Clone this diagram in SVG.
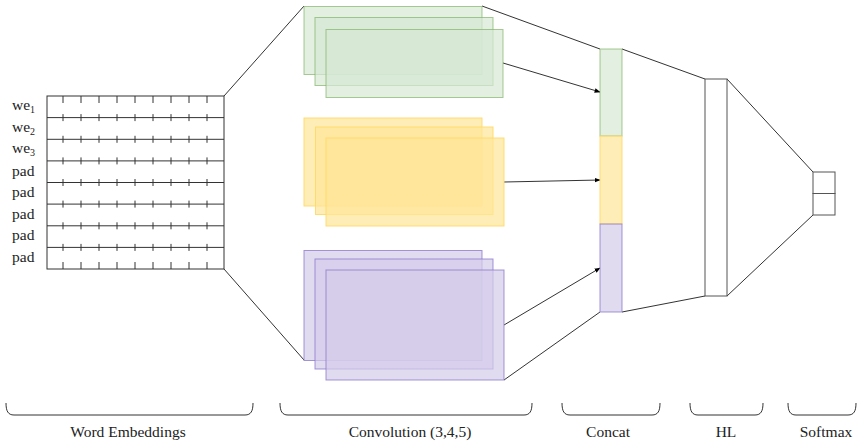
<svg xmlns="http://www.w3.org/2000/svg" width="857" height="444" viewBox="0 0 857 444">
<style>
text{font-family:"Liberation Serif","Times New Roman",serif;font-size:15.5px;fill:#222}
.ln{stroke:#333;stroke-width:1;fill:none}
.tk{stroke:#333;stroke-width:1}
.g{fill:#d5e8d4;stroke:#82b366;fill-opacity:0.7;stroke-opacity:0.7}
.y{fill:#ffe599;stroke:#ffd966;fill-opacity:0.7;stroke-opacity:0.9}
.p{fill:#d4cce9;stroke:#8c7acb;fill-opacity:0.7;stroke-opacity:0.8}
.box{fill:#fff;stroke:#555;stroke-width:1}
.br{stroke:#333;stroke-width:1;fill:none}
</style>
<defs>
<marker id="ah" viewBox="0 0 10 10" refX="9" refY="5" markerWidth="6" markerHeight="6" orient="auto" markerUnits="userSpaceOnUse">
<path d="M0,1 L10,5 L0,9 z" fill="#000"/>
</marker>
<g id="tickrow">
<line x1="63" y1="-3.5" x2="63" y2="3.5"/><line x1="81" y1="-3.5" x2="81" y2="3.5"/><line x1="99" y1="-3.5" x2="99" y2="3.5"/><line x1="117" y1="-3.5" x2="117" y2="3.5"/><line x1="135" y1="-3.5" x2="135" y2="3.5"/><line x1="153" y1="-3.5" x2="153" y2="3.5"/><line x1="171" y1="-3.5" x2="171" y2="3.5"/><line x1="189" y1="-3.5" x2="189" y2="3.5"/><line x1="207" y1="-3.5" x2="207" y2="3.5"/>
</g>
</defs>

<g id="connectors">
<line class="ln" x1="224" y1="96" x2="304" y2="6"/>
<line class="ln" x1="224" y1="269" x2="304" y2="360"/>
<line class="ln" x1="482" y1="6" x2="600" y2="49"/>
<line class="ln" x1="504" y1="380" x2="600" y2="312"/>
<line class="ln" x1="622" y1="49" x2="705" y2="79"/>
<line class="ln" x1="622" y1="312" x2="705" y2="296"/>
<line class="ln" x1="727" y1="79" x2="813" y2="172"/>
<line class="ln" x1="727" y1="296" x2="813" y2="215"/>
<line class="ln" x1="503" y1="63" x2="600" y2="92" marker-end="url(#ah)"/>
<line class="ln" x1="504" y1="182" x2="600" y2="180" marker-end="url(#ah)"/>
<line class="ln" x1="504" y1="325" x2="600" y2="268" marker-end="url(#ah)"/>
</g>

<g id="embeddings">
<rect class="ln" x="47" y="96" width="177" height="173"/>
<line class="ln" x1="47" y1="117.6" x2="224" y2="117.6"/>
<line class="ln" x1="47" y1="139.3" x2="224" y2="139.3"/>
<line class="ln" x1="47" y1="160.9" x2="224" y2="160.9"/>
<line class="ln" x1="47" y1="182.5" x2="224" y2="182.5"/>
<line class="ln" x1="47" y1="204.1" x2="224" y2="204.1"/>
<line class="ln" x1="47" y1="225.8" x2="224" y2="225.8"/>
<line class="ln" x1="47" y1="247.4" x2="224" y2="247.4"/>
<g class="tk">
<use href="#tickrow" y="117.6"/><use href="#tickrow" y="139.3"/><use href="#tickrow" y="160.9"/><use href="#tickrow" y="182.5"/><use href="#tickrow" y="204.1"/><use href="#tickrow" y="225.8"/><use href="#tickrow" y="247.4"/>
<use href="#tickrow" y="99.5"/><use href="#tickrow" y="265.5"/>
</g>
<text x="12" y="110">we<tspan font-size="10" dy="3">1</tspan></text>
<text x="12" y="132">we<tspan font-size="10" dy="3">2</tspan></text>
<text x="12" y="153">we<tspan font-size="10" dy="3">3</tspan></text>
<text x="12" y="176">pad</text>
<text x="12" y="197">pad</text>
<text x="12" y="219">pad</text>
<text x="12" y="240">pad</text>
<text x="12" y="262">pad</text>
</g>

<g id="conv-green">
<rect class="g" x="304" y="6.5" width="178" height="68"/>
<rect class="g" x="315" y="17.5" width="178" height="68"/>
<rect class="g" x="326" y="29.5" width="177" height="68"/>
</g>
<g id="conv-yellow">
<rect class="y" x="304" y="118" width="178" height="88"/>
<rect class="y" x="315.5" y="127" width="177.5" height="87.5"/>
<rect class="y" x="326" y="138" width="178" height="88"/>
</g>
<g id="conv-purple">
<rect class="p" x="304" y="250.5" width="178" height="110"/>
<rect class="p" x="315" y="259" width="178" height="110"/>
<rect class="p" x="326" y="270" width="178" height="110"/>
</g>

<g id="concat">
<rect class="g" x="600" y="49" width="22" height="87"/>
<rect class="y" x="600" y="136" width="22" height="88"/>
<rect class="p" x="600" y="224" width="22" height="88"/>
</g>

<g id="hl">
<rect class="box" x="705" y="79" width="22" height="217"/>
</g>

<g id="softmax">
<rect class="box" x="813" y="172" width="22" height="21.5"/>
<rect class="box" x="813" y="193.5" width="22" height="21.5"/>
</g>

<g id="braces">
<path class="br" d="M6,403 C6,411 8,415 14,415 L245,415 C251,415 253,411 253,403"/>
<path class="br" d="M280,403 C280,411 282,415 288,415 L524,415 C530,415 532,411 532,403"/>
<path class="br" d="M562,403 C562,411 564,415 570,415 L652,415 C658,415 660,411 660,403"/>
<path class="br" d="M690,403 C690,411 692,415 698,415 L755,415 C761,415 763,411 763,403"/>
<path class="br" d="M788,403 C788,411 790,415 796,415 L848,415 C854,415 856,411 856,403"/>
<text x="128" y="437" text-anchor="middle">Word Embeddings</text>
<text x="410" y="437" text-anchor="middle">Convolution (3,4,5)</text>
<text x="608" y="437" text-anchor="middle">Concat</text>
<text x="726" y="437" text-anchor="middle">HL</text>
<text x="826" y="437" text-anchor="middle">Softmax</text>
</g>
</svg>
